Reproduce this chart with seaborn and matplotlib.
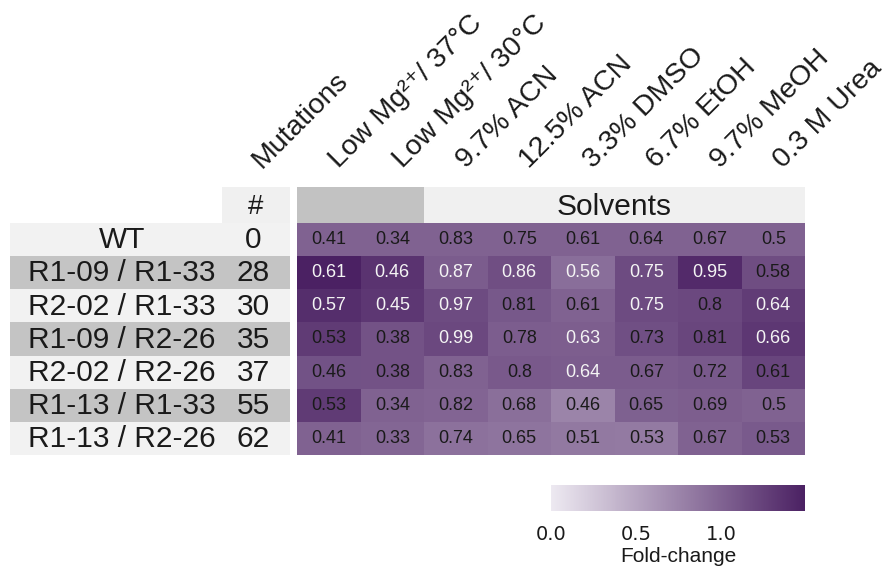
import numpy as np
import pandas as pd
import matplotlib
matplotlib.use("Agg")
import matplotlib.pyplot as plt
import matplotlib.transforms as mtransforms
from matplotlib.colors import LinearSegmentedColormap
from matplotlib.patches import Rectangle
import seaborn as sns

# ---- data -------------------------------------------------------------
variants = ["WT", "R1-09 / R1-33", "R2-02 / R1-33", "R1-09 / R2-26",
            "R2-02 / R2-26", "R1-13 / R1-33", "R1-13 / R2-26"]
n_mutations = [0, 28, 30, 35, 37, 55, 62]
conditions = ["Low Mg\u00b2\u207a/ 37\u00b0C", "Low Mg\u00b2\u207a/ 30\u00b0C",
              "9.7% ACN", "12.5% ACN", "3.3% DMSO", "6.7% EtOH",
              "9.7% MeOH", "0.3 M Urea"]
activity = [
    [0.41, 0.34, 0.83, 0.75, 0.61, 0.64, 0.67, 0.50],
    [0.61, 0.46, 0.87, 0.86, 0.56, 0.75, 0.95, 0.58],
    [0.57, 0.45, 0.97, 0.81, 0.61, 0.75, 0.80, 0.64],
    [0.53, 0.38, 0.99, 0.78, 0.63, 0.73, 0.81, 0.66],
    [0.46, 0.38, 0.83, 0.80, 0.64, 0.67, 0.72, 0.61],
    [0.53, 0.34, 0.82, 0.68, 0.46, 0.65, 0.69, 0.50],
    [0.41, 0.33, 0.74, 0.65, 0.51, 0.53, 0.67, 0.53],
]
# cells whose value is printed in white
white_label = [
    [0, 0, 0, 0, 0, 0, 0, 0],
    [1, 1, 1, 1, 1, 1, 1, 0],
    [1, 1, 1, 0, 0, 1, 0, 1],
    [0, 0, 1, 0, 1, 0, 0, 1],
    [0, 0, 0, 0, 1, 0, 0, 0],
    [0, 0, 0, 0, 0, 0, 0, 0],
    [0, 0, 0, 0, 0, 0, 0, 0],
]
group_label = "Solvents"
n_unlabelled_group = 2

# ---- styling ----------------------------------------------------------
sns.set_theme(style="white")
plt.rcParams["font.family"] = ["Liberation Sans", "DejaVu Sans"]

W, H = 889, 571
fig = plt.figure(figsize=(W / 100, H / 100), dpi=100)


def px_axes(x0, y0, x1, y1):
    return fig.add_axes([x0 / W, 1 - y1 / H, (x1 - x0) / W, (y1 - y0) / H])


vals = pd.DataFrame(activity, index=variants, columns=range(len(conditions)))
fold = vals / vals.iloc[0]
annot = vals.map(lambda v: f"{v:g}")

cmap = LinearSegmentedColormap.from_list("fold", ["#ede9f1", "#4b2163"])

ax = px_axes(297, 223, 805, 455)
cax = px_axes(551, 485, 805, 511)
sns.heatmap(fold, ax=ax, cmap=cmap, vmin=0, vmax=float(fold.values.max()),
            annot=annot, fmt="", annot_kws={"fontsize": 13},
            cbar_ax=cax, cbar_kws={"orientation": "horizontal",
                                   "ticks": [0, 0.5, 1.0]},
            xticklabels=False, yticklabels=False)
ax.set_xlabel("")
ax.set_ylabel("")

ncol = len(conditions)
for t in ax.texts:
    x, y = t.get_position()
    i, j = int(y), int(x)
    t.set_color("#f4f4f4" if white_label[i][j] else "#1a1a1a")

# colour bar
cbar = ax.collections[0].colorbar
cbar.outline.set_visible(False)
cax.tick_params(axis="x", direction="in", colors="white", length=4, width=1,
                top=True, bottom=True, labeltop=False, labelbottom=True,
                pad=10, labelsize=14, labelcolor="#1a1a1a")
cax.set_xticklabels(["0.0", "0.5", "1.0"])
for lab in cax.get_xticklabels():
    lab.set_family("DejaVu Sans")
cax.set_xlabel("Fold-change", fontsize=15, color="#1a1a1a", labelpad=2)

# condition group band above the heatmap
hax = px_axes(297, 187, 805, 223)
hax.set_xlim(0, ncol)
hax.set_ylim(0, 1)
hax.axis("off")
hax.add_patch(Rectangle((0, 0), n_unlabelled_group, 1, color="#c2c2c2", lw=0))
hax.add_patch(Rectangle((n_unlabelled_group, 0), ncol - n_unlabelled_group, 1,
                        color="#f0f0f0", lw=0))
hax.text((n_unlabelled_group + ncol) / 2, 0.45, group_label, ha="center",
         va="center", fontsize=21.5, color="#1a1a1a")

# variant table on the left
tax = px_axes(10, 187, 290, 455)
nrow = len(variants)
head = 36 / 33.14
tax.set_xlim(0, 1)
tax.set_ylim(nrow + head, 0)
tax.axis("off")
name_w = 212 / 280
tax.add_patch(Rectangle((name_w, 0), 1 - name_w, head, color="#f0f0f0", lw=0))
tax.text((name_w + 1) / 2, head * 0.55, "#", ha="center", va="center",
         fontsize=20, color="#1a1a1a")
for i, (name, n) in enumerate(zip(variants, n_mutations)):
    y0 = head + i
    shade = "#f2f2f2" if i % 2 == 0 else "#c4c4c4"
    tax.add_patch(Rectangle((0, y0), 1, 1, color=shade, lw=0))
    tax.text(name_w / 2 + 0.02, y0 + 0.52, name, ha="center", va="center",
             fontsize=21.5, color="#1a1a1a")
    tax.text((name_w + 1) / 2 - 0.01, y0 + 0.52, str(n), ha="center",
             va="center", fontsize=21.5, color="#1a1a1a")

# rotated column headers
blend = mtransforms.blended_transform_factory(ax.transData, ax.transAxes)
y_lab = 1 + (223 - 169) / (455 - 223)
for j, lab in enumerate(conditions):
    ax.text(j + 0.66, y_lab, lab, rotation=45, rotation_mode="anchor",
            ha="left", va="baseline", fontsize=20.5, color="#1a1a1a",
            transform=blend, clip_on=False)
tax.text((name_w + 1) / 2 + 0.02, -(187 - 169) / 33.14, "Mutations",
         rotation=45, rotation_mode="anchor", ha="left", va="baseline",
         fontsize=20.5, color="#1a1a1a", clip_on=False)

fig.savefig("out.png", dpi=100)
